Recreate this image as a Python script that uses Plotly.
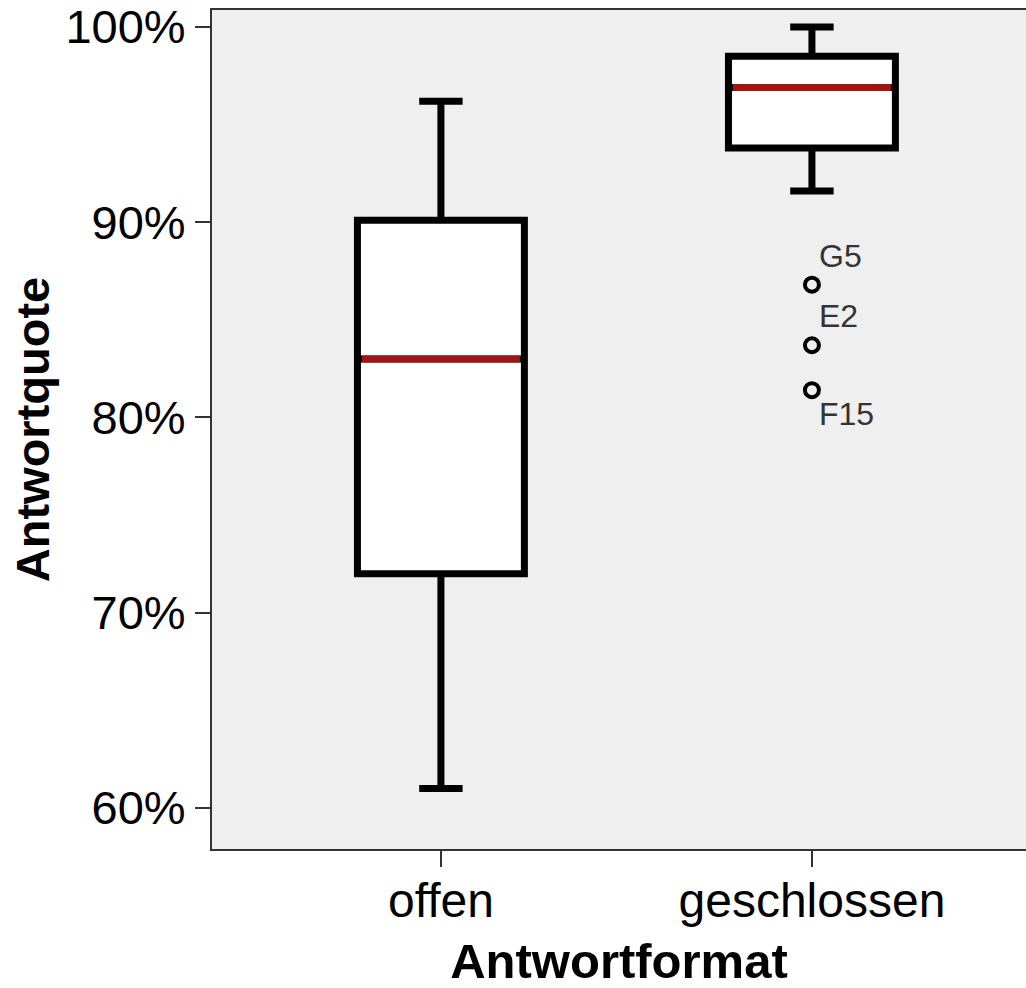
import plotly.graph_objects as go

categories = ["offen", "geschlossen"]
q1 = [72.0, 93.8]
median = [83.0, 96.9]
q3 = [90.1, 98.5]
lower_whisker = [61.0, 91.6]
upper_whisker = [96.2, 100.0]

outlier_values = [86.8, 83.7, 81.4]
outlier_labels = ["G5", "E2", "F15"]
outlier_category = 1

y_ticks = [60, 70, 80, 90, 100]
y_tick_labels = ["60%", "70%", "80%", "90%", "100%"]

BOX_W = 0.45
FONT = "Liberation Sans, Arial, sans-serif"

fig = go.Figure()

xs = list(range(len(categories)))
fig.add_trace(go.Box(
    x=xs, q1=q1, median=median, q3=q3,
    lowerfence=lower_whisker, upperfence=upper_whisker,
    width=BOX_W, whiskerwidth=0.26,
    fillcolor="white", line=dict(color="black", width=7),
    boxpoints=False, showlegend=False, hoverinfo="skip",
))

# red median lines
for i, m in enumerate(median):
    fig.add_trace(go.Scatter(
        x=[i - BOX_W / 2 + 0.012, i + BOX_W / 2 - 0.012], y=[m, m],
        mode="lines", line=dict(color="#a01414", width=7),
        showlegend=False, hoverinfo="skip",
    ))

# outliers
fig.add_trace(go.Scatter(
    x=[outlier_category] * len(outlier_values), y=outlier_values,
    mode="markers",
    marker=dict(symbol="circle-open", size=14, color="black", line=dict(width=4, color="black")),
    showlegend=False, hoverinfo="skip",
))
positions = ["top", "top", "bottom"]
for v, lab, pos in zip(outlier_values, outlier_labels, positions):
    fig.add_annotation(
        x=outlier_category, y=v, text=lab, showarrow=False,
        xanchor="left", yanchor="bottom" if pos == "top" else "top",
        xshift=5, yshift=9 if pos == "top" else -4,
        font=dict(family=FONT, size=32, color="#333333"),
    )

fig.update_layout(
    width=1026, height=988,
    margin=dict(l=212, r=0, t=10, b=139),
    paper_bgcolor="white", plot_bgcolor="#efefef",
    font=dict(family=FONT, color="black"),
    xaxis=dict(
        range=[-0.617, 1.577], tickmode="array", tickvals=xs, ticktext=categories,
        ticks="outside", ticklen=16, tickwidth=2, tickcolor="#333333",
        showline=True, linecolor="#333333", linewidth=2, mirror=True,
        showgrid=False, zeroline=False, ticklabelstandoff=-8,
        tickfont=dict(family=FONT, size=48, color="black"),
        title=dict(text="<b>Antwortformat</b>", font=dict(family=FONT, size=49, color="black"), standoff=19),
    ),
    yaxis=dict(
        range=[57.9, 100.87], tickmode="array", tickvals=y_ticks, ticktext=y_tick_labels,
        ticks="outside", ticklen=15, tickwidth=2, tickcolor="#333333",
        showline=True, linecolor="#333333", linewidth=2,
        showgrid=False, zeroline=False,
        tickfont=dict(family=FONT, size=47, color="black"),
        title=dict(text="<b>Antwortquote</b>", font=dict(family=FONT, size=47, color="black"), standoff=1),
    ),
)

fig.write_html("out.html", config={"displayModeBar": False},
               post_script="document.body.style.margin='0';")
